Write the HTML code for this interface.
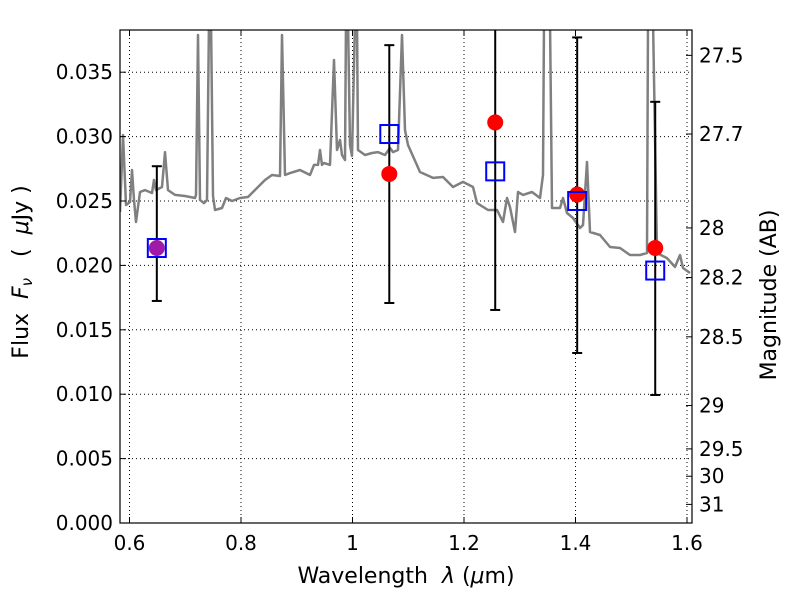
<!DOCTYPE html>
<html><head><meta charset="utf-8">
<style>
body{margin:0;background:#fff;}
svg text{font-family:"DejaVu Sans","Liberation Sans",sans-serif;fill:#000;white-space:pre;}
</style></head>
<body>
<svg id="chart" width="800" height="600" xmlns="http://www.w3.org/2000/svg">
<rect width="800" height="600" fill="#fff"/>
<g id="grid"></g>
<g id="plot"></g>
<rect x="120" y="30" width="572" height="493" fill="none" stroke="#000" stroke-width="1.2"/>
<g id="axes"></g>
<text x="406" y="583" font-size="22" text-anchor="middle" xml:space="preserve">Wavelength  <tspan font-style="italic">λ</tspan> (<tspan font-style="italic">μ</tspan>m)</text>
<text transform="translate(28,272) rotate(-90)" font-size="22" text-anchor="middle" xml:space="preserve">Flux  <tspan font-style="italic">F</tspan><tspan font-style="italic" font-size="15" dy="4">ν</tspan><tspan dy="-4">   (  </tspan><tspan font-style="italic">μ</tspan>Jy )</text>
<text transform="translate(776,295) rotate(-90)" font-size="22" text-anchor="middle">Magnitude (AB)</text>
</svg>
<script>
const specWave=[0.5830,0.5883,0.5937,0.6009,0.6045,0.6081,0.6117,0.6188,0.6278,0.6404,0.6439,0.6475,0.6583,0.6637,0.6691,0.6816,0.6996,0.7175,0.7193,0.7229,0.7265,0.7336,0.7390,0.7426,0.7462,0.7498,0.7534,0.7659,0.7731,0.7839,0.7982,0.8126,0.8341,0.8430,0.8556,0.8700,0.8735,0.8789,0.8879,0.9058,0.9238,0.9309,0.9381,0.9417,0.9453,0.9489,0.9596,0.9668,0.9722,0.9776,0.9812,0.9865,0.9883,0.9919,0.9955,0.9991,1.0045,1.0081,1.0099,1.0224,1.0350,1.0457,1.0583,1.0673,1.0726,1.0816,1.0888,1.0942,1.0996,1.1211,1.1444,1.1623,1.1803,1.1982,1.2161,1.2233,1.2430,1.2592,1.2700,1.2771,1.2825,1.2915,1.2969,1.3058,1.3220,1.3363,1.3417,1.3435,1.3543,1.3578,1.3722,1.3776,1.3848,1.3955,1.4081,1.4135,1.4206,1.4260,1.4439,1.4619,1.4798,1.4978,1.5157,1.5283,1.5300,1.5390,1.5462,1.5641,1.5785,1.5874,1.5928,1.6054];
const specFlux=[0.02415,0.03012,0.02469,0.02492,0.02741,0.02508,0.02337,0.02570,0.02585,0.02562,0.02663,0.02585,0.02609,0.02880,0.02585,0.02547,0.02539,0.02523,0.02547,0.03789,0.02508,0.02484,0.02508,0.0391,0.0391,0.02539,0.02430,0.02446,0.02523,0.02500,0.02523,0.02531,0.02624,0.02663,0.02702,0.02694,0.03789,0.02702,0.02717,0.02741,0.02702,0.02780,0.02780,0.02896,0.02780,0.02795,0.02780,0.03595,0.02896,0.02974,0.02857,0.02818,0.0391,0.0391,0.02935,0.02849,0.0391,0.0391,0.02896,0.02857,0.02873,0.02880,0.02857,0.02912,0.02880,0.02896,0.03789,0.03051,0.02935,0.02725,0.02679,0.02686,0.02609,0.02648,0.02609,0.02484,0.02430,0.02430,0.02337,0.02523,0.02453,0.02259,0.02570,0.02547,0.02570,0.02523,0.02702,0.0391,0.0391,0.02446,0.02446,0.02523,0.02407,0.02368,0.02290,0.02314,0.02803,0.02259,0.02236,0.02143,0.02135,0.02081,0.02081,0.02096,0.0391,0.0391,0.02096,0.02057,0.01988,0.02081,0.01980,0.01941];
const bandWave=[0.649,1.066,1.256,1.403,1.543];
const obsFlux=[0.02135,0.0271,0.0311,0.0255,0.02135];
const errLow=[0.01724,0.01708,0.01654,0.0132,0.00994];
const errHigh=[0.0277,0.0371,0.0395,0.0377,0.0327];
const modelFlux=[0.02135,0.0302,0.0273,0.0250,0.0196];
const obsColors=['#a01aa8','#ff0000','#ff0000','#ff0000','#ff0000'];
const xTicks=[0.6,0.8,1.0,1.2,1.4,1.6];
const xTickLabels=['0.6','0.8','1','1.2','1.4','1.6'];
const yTicks=[0,0.005,0.01,0.015,0.02,0.025,0.03,0.035];
const yTickLabels=['0.000','0.005','0.010','0.015','0.020','0.025','0.030','0.035'];
const magTicks=[27.5,27.7,28,28.2,28.5,29,29.5,30,31];
const magTickLabels=['27.5','27.7','28','28.2','28.5','29','29.5','30','31'];

const L=120,R=692,T=30,B=523;
const xMin=0.6-(129.5-L)/557.5, xMax=0.6+(R-129.5)/557.5;
const yMin=0, yMax=(B-T)/12880;
function X(v){return L+(v-xMin)/(xMax-xMin)*(R-L);}
function Y(v){return B-(v-yMin)/(yMax-yMin)*(B-T);}
function magToFlux(m){return Math.pow(10,(23.9-m)/2.5);}
const NS='http://www.w3.org/2000/svg';
function mk(tag,attrs,parent){const e=document.createElementNS(NS,tag);for(const k in attrs)e.setAttribute(k,attrs[k]);parent.appendChild(e);return e;}
const grid=document.getElementById('grid'),plot=document.getElementById('plot'),axes=document.getElementById('axes');
const clip=mk('clipPath',{id:'clip'},document.getElementById('chart'));
mk('rect',{x:L,y:T,width:R-L,height:B-T},clip);
plot.setAttribute('clip-path','url(#clip)');

xTicks.forEach((t,i)=>{const x=X(t);
 const g=mk('line',{x1:x,x2:x,y1:T,y2:B,stroke:'#000','stroke-width':1,'stroke-dasharray':'1,3'},grid);
 
 
 mk('line',{x1:x,x2:x,y1:B,y2:B-6,stroke:'#000'},axes);
 mk('line',{x1:x,x2:x,y1:T,y2:T+6,stroke:'#000'},axes);
 const tx=mk('text',{x:x,y:B+27,'font-size':20,'text-anchor':'middle'},axes);
 tx.textContent=xTickLabels[i];
 
 
});
yTicks.forEach((t,i)=>{const y=Y(t);
 const g=mk('line',{x1:L,x2:R,y1:y,y2:y,stroke:'#000','stroke-width':1,'stroke-dasharray':'1,3'},grid);
 
 
 mk('line',{x1:L,x2:L+6,y1:y,y2:y,stroke:'#000'},axes);
 const tx=mk('text',{x:L-7,y:y+7,'font-size':20,'text-anchor':'end'},axes);
 tx.textContent=yTickLabels[i];
 
 
});
magTicks.forEach((m,i)=>{const y=Y(magToFlux(m));
 mk('line',{x1:R,x2:R-6,y1:y,y2:y,stroke:'#000'},axes);
 const tx=mk('text',{x:R+7,y:y+7,'font-size':20,'text-anchor':'start'},axes);
 tx.textContent=magTickLabels[i];
 
 
});
let d='';specWave.forEach((w,i)=>{d+=(i?'L':'M')+X(w).toFixed(1)+','+Y(specFlux[i]).toFixed(1);});
const sp=mk('path',{d:d,fill:'none',stroke:'#808080','stroke-width':2.5,'stroke-linejoin':'round'},plot);


bandWave.forEach((w,i)=>{const x=X(w);
 const eb=mk('g',{},plot);
 
 
 mk('line',{x1:x,x2:x,y1:Y(errLow[i]),y2:Y(errHigh[i]),stroke:'#000','stroke-width':2},eb);
 mk('line',{x1:x-5,x2:x+5,y1:Y(errLow[i]),y2:Y(errLow[i]),stroke:'#000','stroke-width':2},eb);
 mk('line',{x1:x-5,x2:x+5,y1:Y(errHigh[i]),y2:Y(errHigh[i]),stroke:'#000','stroke-width':2},eb);
 const c=mk('circle',{cx:x,cy:Y(obsFlux[i]),r:8,fill:obsColors[i]},plot);
 
 
 const s=mk('rect',{x:x-9,y:Y(modelFlux[i])-9,width:18,height:18,fill:'none',stroke:'#0000ff','stroke-width':2},plot);
 
 
});
</script>
</body></html>
